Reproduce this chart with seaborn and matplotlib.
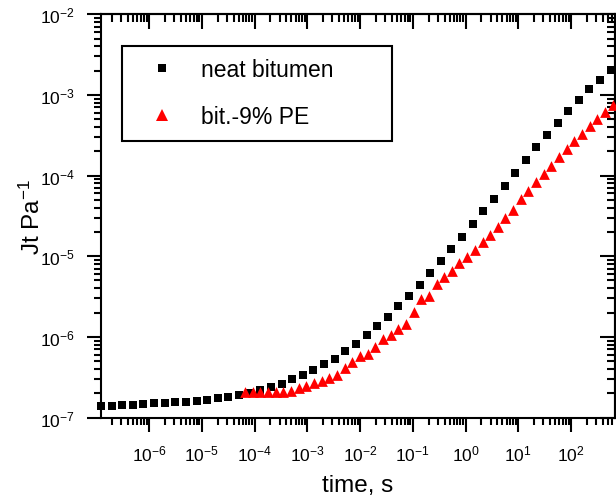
import numpy as np
import pandas as pd
import matplotlib
matplotlib.use("Agg")
import matplotlib.pyplot as plt
import seaborn as sns
from matplotlib.lines import Line2D
from matplotlib.ticker import LogLocator, NullFormatter

# ---------------- data ----------------
neat_label = "neat bitumen"
pe_label = "bit.-9% PE"

neat_time = [1.23e-7, 1.95e-7, 3.11e-7, 4.94e-7, 7.85e-7, 1.25e-6, 1.99e-6, 3.16e-6,
             5.01e-6, 7.97e-6, 1.27e-5, 2.01e-5, 3.20e-5, 5.09e-5, 8.09e-5, 1.29e-4,
             2.05e-4, 3.25e-4, 5.17e-4, 8.22e-4, 1.31e-3, 2.08e-3, 3.30e-3, 5.25e-3,
             8.34e-3, 1.33e-2, 2.11e-2, 3.35e-2, 5.32e-2, 8.47e-2, 0.135, 0.214,
             0.340, 0.541, 0.859, 1.37, 2.17, 3.45, 5.49, 8.72, 13.9, 22.0, 35.1,
             55.7, 88.5, 141, 224, 356, 565]
neat_J = [1.40e-7, 1.40e-7, 1.42e-7, 1.43e-7, 1.47e-7, 1.50e-7, 1.51e-7, 1.54e-7,
          1.57e-7, 1.60e-7, 1.66e-7, 1.73e-7, 1.80e-7, 1.89e-7, 2.03e-7, 2.21e-7,
          2.39e-7, 2.64e-7, 2.99e-7, 3.40e-7, 3.89e-7, 4.57e-7, 5.37e-7, 6.65e-7,
          8.26e-7, 1.05e-6, 1.35e-6, 1.75e-6, 2.38e-6, 3.24e-6, 4.41e-6, 6.15e-6,
          8.67e-6, 1.23e-5, 1.75e-5, 2.50e-5, 3.62e-5, 5.18e-5, 7.45e-5, 1.08e-4,
          1.55e-4, 2.23e-4, 3.20e-4, 4.51e-4, 6.35e-4, 8.77e-4, 1.17e-3, 1.54e-3,
          2.05e-3]

pe_time = [6.61e-5, 9.23e-5, 1.29e-4, 1.80e-4, 2.52e-4, 3.52e-4, 4.91e-4, 6.86e-4,
           9.59e-4, 1.34e-3, 1.87e-3, 2.61e-3, 3.65e-3, 5.10e-3, 7.13e-3, 9.96e-3,
           1.39e-2, 1.94e-2, 2.72e-2, 3.79e-2, 5.30e-2, 7.41e-2, 0.104, 0.145,
           0.202, 0.282, 0.394, 0.551, 0.769, 1.08, 1.50, 2.10, 2.93, 4.09, 5.72,
           7.99, 11.2, 15.6, 21.8, 30.4, 42.5, 59.4, 83.0, 116, 162, 226, 316,
           442, 617]
pe_J = [2.06e-7, 2.07e-7, 2.07e-7, 2.07e-7, 2.06e-7, 2.07e-7, 2.15e-7, 2.30e-7,
        2.48e-7, 2.68e-7, 2.86e-7, 3.06e-7, 3.37e-7, 4.08e-7, 4.88e-7, 5.75e-7,
        6.14e-7, 7.49e-7, 9.42e-7, 1.06e-6, 1.25e-6, 1.43e-6, 2.05e-6, 2.95e-6,
        3.17e-6, 4.53e-6, 5.49e-6, 6.52e-6, 8.14e-6, 9.80e-6, 1.20e-5, 1.49e-5,
        1.85e-5, 2.31e-5, 2.96e-5, 3.78e-5, 5.14e-5, 6.46e-5, 8.28e-5, 1.05e-4,
        1.33e-4, 1.69e-4, 2.13e-4, 2.66e-4, 3.29e-4, 4.08e-4, 5.10e-4, 6.21e-4,
        7.54e-4]

x_label = "time, s"
y_label = "Jt Pa$^{-1}$"

# ---------------- style ----------------
sns.set_theme(style="ticks")
plt.rcParams["font.family"] = ["Liberation Sans", "DejaVu Sans"]
plt.rcParams["mathtext.fontset"] = "custom"
plt.rcParams["mathtext.rm"] = "Liberation Sans"
plt.rcParams["mathtext.it"] = "Liberation Sans:italic"
plt.rcParams["mathtext.bf"] = "Liberation Sans:bold"
plt.rcParams["mathtext.sf"] = "Liberation Sans"
plt.rcParams["text.color"] = "black"
plt.rcParams["axes.labelcolor"] = "black"
plt.rcParams["xtick.color"] = "black"
plt.rcParams["ytick.color"] = "black"
plt.rcParams["axes.unicode_minus"] = True

fig = plt.figure(figsize=(6.16, 5.02), dpi=100)
ax = fig.add_axes([101 / 616, 1 - 418.5 / 502, 514 / 616, 403.2 / 502])

df_neat = pd.DataFrame({"time": neat_time, "J": neat_J})
df_pe = pd.DataFrame({"time": pe_time, "J": pe_J})

sns.scatterplot(data=df_neat, x="time", y="J", marker="s", color="black",
                s=30, linewidth=0, ax=ax, legend=False, clip_on=False, zorder=3)
sns.scatterplot(data=df_pe, x="time", y="J", marker="^", color="red",
                s=60, linewidth=0, ax=ax, legend=False, clip_on=False, zorder=4)

ax.set_xscale("log")
ax.set_yscale("log")
ax.set_xlim(1.23e-7, 682)
ax.set_ylim(1e-7, 1e-2)

for a in (ax.xaxis, ax.yaxis):
    a.set_major_locator(LogLocator(base=10, numticks=100))
    a.set_minor_locator(LogLocator(base=10, subs=np.arange(2, 10), numticks=100))
    a.set_minor_formatter(NullFormatter())

ax.tick_params(which="major", direction="out", length=10, width=1.5,
               labelsize=12.5, pad=9, top=False, right=False)
ax.tick_params(which="minor", direction="out", length=5, width=1.5,
               top=False, right=False)

for sp in ax.spines.values():
    sp.set_linewidth(1.5)
    sp.set_color("black")
    sp.set_visible(True)

# mirrored top / right axes with inward ticks
secx = ax.secondary_xaxis("top")
secx.xaxis.set_major_locator(LogLocator(base=10, numticks=100))
secx.xaxis.set_minor_locator(LogLocator(base=10, subs=np.arange(2, 10), numticks=100))
secx.xaxis.set_major_formatter(NullFormatter())
secx.xaxis.set_minor_formatter(NullFormatter())
secx.tick_params(which="major", direction="in", length=11, width=1.5)
secx.tick_params(which="minor", direction="in", length=5.5, width=1.5)
secx.spines["top"].set_linewidth(1.5)

secy = ax.secondary_yaxis("right")
secy.yaxis.set_major_locator(LogLocator(base=10, numticks=100))
secy.yaxis.set_minor_locator(LogLocator(base=10, subs=np.arange(2, 10), numticks=100))
secy.yaxis.set_major_formatter(NullFormatter())
secy.yaxis.set_minor_formatter(NullFormatter())
secy.tick_params(which="major", direction="in", length=11, width=1.5)
secy.tick_params(which="minor", direction="in", length=5.5, width=1.5)
secy.spines["right"].set_linewidth(1.5)

ax.set_xlabel(x_label, fontsize=17.5, labelpad=7)
ax.set_ylabel(y_label, fontsize=17.5, labelpad=-4)

handles = [
    Line2D([], [], marker="s", color="black", linestyle="", markersize=5.5,
           markeredgewidth=0),
    Line2D([], [], marker="^", color="red", linestyle="", markersize=8.5,
           markeredgewidth=0),
]
leg = ax.legend(handles, [neat_label, pe_label], loc="upper left",
                bbox_to_anchor=(0.0403, 0.922, 0.5264, 0.0), mode="expand",
                borderaxespad=0, fontsize=16.5, frameon=True, fancybox=False,
                framealpha=1, edgecolor="black", borderpad=0.55,
                labelspacing=1.05, handlelength=2.4, handletextpad=0.5)
leg.get_frame().set_linewidth(1.5)

fig.savefig("out.png", dpi=100)
